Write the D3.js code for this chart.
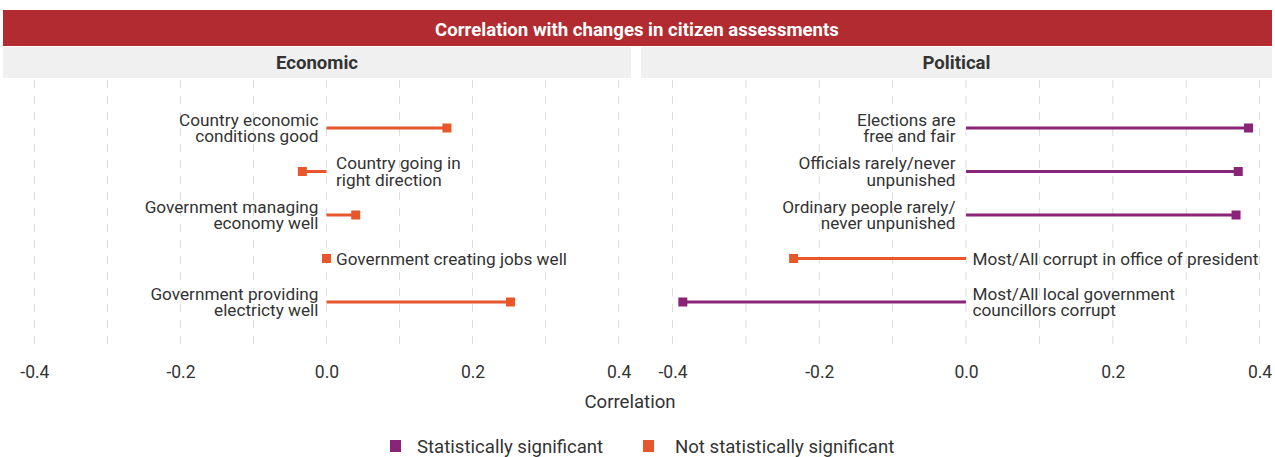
<!DOCTYPE html>
<html><head><meta charset="utf-8">
<script src="https://cdn.jsdelivr.net/npm/d3@7"></script>
<style>
body{margin:0;background:#fff;}
text{font-family:Roboto,"Noto Sans",sans-serif;}
</style></head>
<body><svg id="c" width="1275" height="457"></svg>
<script>
const title = "Correlation with changes in citizen assessments";
const panels = ["Economic", "Political"];
const econLabels = [["Country economic","conditions good"],["Country going in","right direction"],["Government managing","economy well"],["Government creating jobs well"],["Government providing","electricty well"]];
const econValues = [0.165, -0.033, 0.040, 0.0, 0.252];
const econSignificant = [false, false, false, false, false];
const polLabels = [["Elections are","free and fair"],["Officials rarely/never","unpunished"],["Ordinary people rarely/","never unpunished"],["Most/All corrupt in office of president"],["Most/All local government","councillors corrupt"]];
const polValues = [0.385, 0.371, 0.368, -0.235, -0.386];
const polSignificant = [true, true, true, false, true];
const xTicks = [-0.4, -0.2, 0.0, 0.2, 0.4];
const gridTicks = [-0.4,-0.3,-0.2,-0.1,0,0.1,0.2,0.3,0.4];
const legendLabels = ["Statistically significant", "Not statistically significant"];
const axisTitle = "Correlation";

const colSig = "#8A2479", colNot = "#E8562B";
const svg = d3.select("#c");

// title banner
svg.append("rect").attr("x",3).attr("y",10).attr("width",1269).attr("height",36).attr("fill","#B22B30");
svg.append("text").attr("x",637).attr("y",35.5).attr("text-anchor","middle").attr("fill","#fff")
  .attr("font-size",18.6).attr("font-weight","bold").text(title);

const panelDefs = [
  {name:panels[0], x0:3, x1:631, labels:econLabels, values:econValues, sig:econSignificant, offL:8, offR:9.5},
  {name:panels[1], x0:641, x1:1272, labels:polLabels, values:polValues, sig:polSignificant, offL:10.5, offR:6.5}
];
const y = d3.scalePoint().domain(d3.range(5)).range([128, 302]);

panelDefs.forEach(p => {
  const x = d3.scaleLinear().domain([-0.443, 0.417]).range([p.x0, p.x1]);
  svg.append("rect").attr("x",p.x0).attr("y",47).attr("width",p.x1-p.x0).attr("height",31).attr("fill","#F0F0F0");
  svg.append("text").attr("x",(p.x0+p.x1)/2).attr("y",68.5).attr("text-anchor","middle")
    .attr("fill","#333").attr("font-size",18.6).attr("font-weight","bold").text(p.name);
  const g = svg.append("g");
  g.selectAll("line.grid").data(gridTicks).join("line").attr("class","grid")
    .attr("x1",d=>x(d)).attr("x2",d=>x(d)).attr("y1",80).attr("y2",347)
    .attr("stroke","#DCDCDC").attr("stroke-width",1).attr("stroke-dasharray","8,8");
  // axis
  const ax = svg.append("g").attr("transform","translate(0,358)")
    .call(d3.axisBottom(x).tickValues(xTicks).tickFormat(d3.format(".1f")).tickSize(0).tickPadding(8));
  ax.select(".domain").remove();
  ax.selectAll("text").attr("font-size",17.5).attr("fill","#333").attr("font-family","Roboto,sans-serif")
    .text(d => d3.format(".1f")(d).replace("−","-"));
  const data = p.values.map((v,i)=>({v, i, lab:p.labels[i], s:p.sig[i]}));
  g.selectAll("line.seg").data(data).join("line").attr("class","seg")
    .attr("x1",x(0)).attr("x2",d=>x(d.v)).attr("y1",d=>y(d.i)).attr("y2",d=>y(d.i))
    .attr("stroke",d=>d.s?colSig:colNot).attr("stroke-width",3);
  g.selectAll("rect.pt").data(data).join("rect").attr("class","pt")
    .attr("x",d=>x(d.v)-4.5).attr("y",d=>y(d.i)-4.5).attr("width",9).attr("height",9)
    .attr("fill",d=>d.s?colSig:colNot);
  data.forEach(d => {
    const right = d.v <= 0;
    const tx = right ? x(0)+p.offR : x(0)-p.offL;
    const t = g.append("text").attr("font-size",17.2).attr("fill","#333")
      .attr("text-anchor", right ? "start" : "end").attr("x", tx);
    const n = d.lab.length;
    d.lab.forEach((line,k)=>{
      t.append("tspan").attr("x", tx)
        .attr("y", y(d.i) + 6 + (k-(n-1)/2)*16.5).text(line);
    });
  });
});

svg.append("text").attr("x",630).attr("y",407.5).attr("text-anchor","middle").attr("font-size",18.6)
  .attr("fill","#333").text(axisTitle);

// legend
const leg = [{c:colSig, t:legendLabels[0], x:390, tx:417},{c:colNot, t:legendLabels[1], x:643, tx:675}];
leg.forEach(l=>{
  svg.append("rect").attr("x",l.x).attr("y",440).attr("width",11).attr("height",12).attr("fill",l.c);
  svg.append("text").attr("x",l.tx).attr("y",453).attr("font-size",18.6).attr("fill","#333").text(l.t);
});
</script></body></html>
